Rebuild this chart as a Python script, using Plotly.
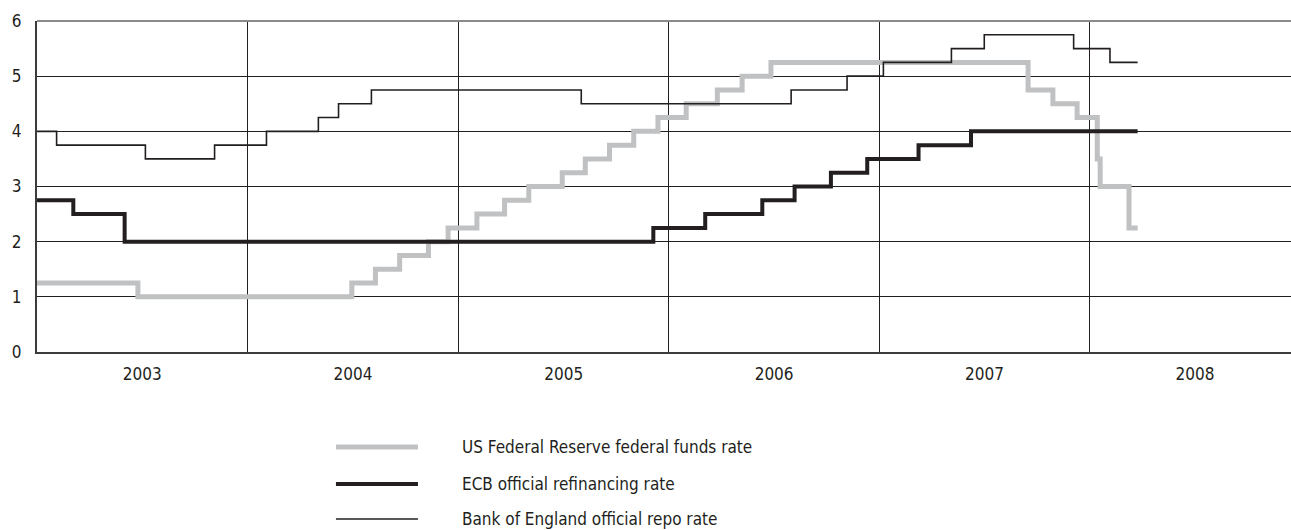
import plotly.graph_objects as go

# ---- data ----
series_names = [
    "US Federal Reserve federal funds rate",
    "ECB official refinancing rate",
    "Bank of England official repo rate",
]

fed_dates = ["2003-01-01", "2003-06-25", "2004-06-30", "2004-08-10", "2004-09-21",
             "2004-11-10", "2004-12-14", "2005-02-02", "2005-03-22", "2005-05-03",
             "2005-06-30", "2005-08-09", "2005-09-20", "2005-11-01", "2005-12-13",
             "2006-01-31", "2006-03-26", "2006-05-08", "2006-06-27", "2007-09-16",
             "2007-10-29", "2007-12-10", "2008-01-14", "2008-01-19", "2008-03-09",
             "2008-03-24"]
fed_rates = [1.25, 1.0, 1.25, 1.5, 1.75, 2.0, 2.25, 2.5, 2.75, 3.0, 3.25, 3.5, 3.75,
             4.0, 4.25, 4.5, 4.75, 5.0, 5.25, 4.75, 4.5, 4.25, 3.5, 3.0, 2.25, 2.25]

ecb_dates = ["2003-01-01", "2003-03-05", "2003-06-02", "2005-12-05", "2006-03-05",
             "2006-06-12", "2006-08-07", "2006-10-09", "2006-12-11", "2007-03-10",
             "2007-06-09", "2008-03-24"]
ecb_rates = [2.75, 2.5, 2.0, 2.25, 2.5, 2.75, 3.0, 3.25, 3.5, 3.75, 4.0, 4.0]

boe_dates = ["2003-01-01", "2003-02-04", "2003-07-08", "2003-11-05", "2004-02-03",
             "2004-05-03", "2004-06-07", "2004-08-03", "2005-08-02", "2006-08-01",
             "2006-11-06", "2007-01-08", "2007-05-06", "2007-07-02", "2007-12-04",
             "2008-02-05", "2008-03-24"]
boe_rates = [4.0, 3.75, 3.5, 3.75, 4.0, 4.25, 4.5, 4.75, 4.5, 4.75, 5.0, 5.25, 5.5,
             5.75, 5.5, 5.25, 5.25]

y_ticks = [0, 1, 2, 3, 4, 5, 6]

# ---- styles ----
FONT = "DejaVu Sans Condensed, Liberation Sans Narrow, Arial Narrow, sans-serif"
DARK = "#231f20"
GREY = "#c0c1c3"
styles = [
    dict(color=GREY, width=5),
    dict(color=DARK, width=4),
    dict(color=DARK, width=1.6),
]

fig = go.Figure()
for name, xs, ys, st in zip(series_names,
                            [fed_dates, ecb_dates, boe_dates],
                            [fed_rates, ecb_rates, boe_rates],
                            styles):
    fig.add_trace(go.Scatter(x=xs, y=ys, mode="lines", name=name,
                             line=dict(shape="hv", **st), showlegend=False))

# custom legend (line samples + labels)
leg_y = [-0.287, -0.399, -0.5045]
for name, st, yy in zip(series_names, styles, leg_y):
    fig.add_shape(type="line", xref="paper", yref="paper",
                  x0=0.2384, x1=0.3038, y0=yy, y1=yy,
                  line=dict(color=st["color"], width=st["width"]))
    fig.add_annotation(xref="paper", yref="paper", x=0.3375, y=yy,
                       text=name, showarrow=False, xanchor="left", yanchor="middle",
                       font=dict(family=FONT, size=17, color=DARK))

fig.update_layout(
    width=1291, height=530,
    margin=dict(l=37, r=0, t=21, b=178),
    plot_bgcolor="white", paper_bgcolor="white",
    font=dict(family=FONT, color=DARK),
    xaxis=dict(
        type="date",
        range=["2003-01-01", "2008-12-15"],
        dtick="M12", tick0="2003-01-01",
        tickformat="%Y", ticklabelmode="period",
        showgrid=True, gridcolor=DARK, gridwidth=1,
        ticks="", ticklabelstandoff=6,
        tickfont=dict(family=FONT, size=17, color=DARK),
        showline=True, linecolor="#3c3c3c", linewidth=2,
        zeroline=False,
    ),
    yaxis=dict(
        range=[0, 6], tickvals=y_ticks,
        showgrid=True, gridcolor=DARK, gridwidth=1,
        ticks="", ticklabelstandoff=10,
        tickfont=dict(family=FONT, size=17, color=DARK),
        showline=True, linecolor="#3c3c3c", linewidth=2,
        zeroline=False,
    ),
)
# top border line at 6
fig.add_shape(type="line", xref="paper", yref="paper", x0=0, x1=1, y0=1, y1=1,
              line=dict(color="#8a8a8a", width=2))

fig.write_html("out.html", config={"displayModeBar": False},
               post_script="document.body.style.margin='0';document.body.style.overflow='hidden';")
